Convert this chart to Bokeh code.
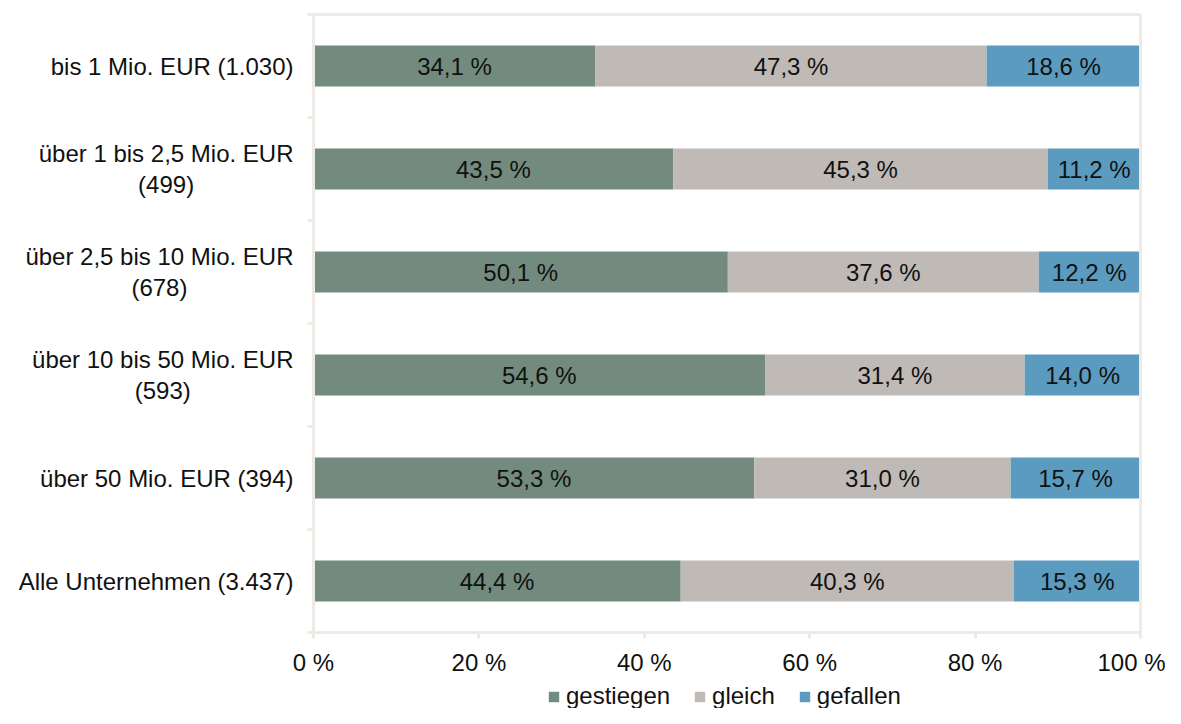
from bokeh.plotting import figure
from bokeh.models import (ColumnDataSource, Range1d, FixedTicker, Legend, LegendItem,
                          CustomJSTickFormatter, LinearAxis)
from bokeh.embed import file_html
from bokeh.resources import INLINE
from bokeh.core.properties import value

categories = [
    "bis 1 Mio. EUR (1.030)",
    "über 1 bis 2,5 Mio. EUR\n(499)",
    "über 2,5 bis 10 Mio. EUR\n(678)",
    "über 10 bis 50 Mio. EUR\n(593)",
    "über 50 Mio. EUR (394)",
    "Alle Unternehmen (3.437)",
]
gestiegen = [34.1, 43.5, 50.1, 54.6, 53.3, 44.4]
gleich = [47.3, 45.3, 37.6, 31.4, 31.0, 40.3]
gefallen = [18.6, 11.2, 12.2, 14.0, 15.7, 15.3]
series = ["gestiegen", "gleich", "gefallen"]
colors = ["#728B7E", "#BFBAB6", "#5B9BBF"]
x_ticks = [0, 20, 40, 60, 80, 100]

FONT = "Liberation Sans"
AXIS_COLOR = "#EEEAE6"
TEXT_COLOR = "#111111"

# layout (pixels); the frame fills the whole canvas, axes are placed at fixed locations
W, H = 1165, 708
PLOT_LEFT, PLOT_RIGHT = 313, 1140
PLOT_TOP, PLOT_BOTTOM = 14, 632

n = len(categories)
ypos = [n - 0.5 - i for i in range(n)]
px_x = (PLOT_RIGHT - PLOT_LEFT) / 100.0
px_y = (PLOT_BOTTOM - PLOT_TOP) / float(n)
x_range = Range1d(-PLOT_LEFT / px_x, 100 + (W - PLOT_RIGHT) / px_x)
y_range = Range1d(-(H - PLOT_BOTTOM) / px_y, n + PLOT_TOP / px_y)

src = ColumnDataSource(dict(y=ypos, gestiegen=gestiegen, gleich=gleich, gefallen=gefallen))

p = figure(width=W, height=H, output_backend="svg", toolbar_location=None,
           x_range=x_range, y_range=y_range,
           x_axis_location=None, y_axis_location=None,
           min_border=0)
p.grid.visible = False
p.outline_line_color = None
p.border_fill_color = "white"

renderers = p.hbar_stack(series, y="y", height=0.4, color=colors, line_color=None, source=src)

# data labels
lx, ly, lt = [], [], []
for i in range(n):
    left = 0.0
    for v in (gestiegen[i], gleich[i], gefallen[i]):
        lx.append(left + v / 2)
        ly.append(ypos[i])
        lt.append(f"{v:.1f}".replace(".", ",") + " %")
        left += v
p.text(x=lx, y=ly, text=lt, text_align="center", text_baseline="middle",
       text_font=value(FONT), text_font_size="24px", text_color=TEXT_COLOR)

# category labels (right-anchored blocks, centred lines)
p.text(x=[0] * n, y=ypos, text=categories, x_offset=-20, anchor="center_right",
       text_align="center", text_baseline="middle", text_font=value(FONT),
       text_font_size="24px", text_color=TEXT_COLOR, text_line_height=1.13)


def frame_axis(side, loc, bounds, ticks=(), minor=(), tick_out=0):
    ax = LinearAxis(fixed_location=loc, bounds=bounds,
                    ticker=FixedTicker(ticks=list(ticks), minor_ticks=list(minor)),
                    axis_line_color=AXIS_COLOR, axis_line_width=3,
                    major_tick_line_color=AXIS_COLOR, major_tick_line_width=3,
                    major_tick_out=tick_out, major_tick_in=0,
                    minor_tick_line_color=AXIS_COLOR, minor_tick_line_width=3,
                    minor_tick_out=tick_out, minor_tick_in=0)
    p.add_layout(ax, side)
    return ax


# bottom value axis
xa = frame_axis("below", 0, (0, 100), ticks=x_ticks, tick_out=6)
xa.formatter = CustomJSTickFormatter(code="return tick + ' %'")
xa.major_label_standoff = 10
xa.major_label_text_font = FONT
xa.major_label_text_font_size = "24px"
xa.major_label_text_color = TEXT_COLOR

# left category axis: boundary ticks only (labels drawn as text above)
frame_axis("left", 0, (0, n), minor=range(n + 1), tick_out=6)

# top and right frame lines
frame_axis("above", n, (0, 100))
frame_axis("right", 100, (0, n))

legend = Legend(items=[LegendItem(label=s, renderers=[r]) for s, r in zip(series, renderers)],
                orientation="horizontal", location=(547, -2),
                glyph_width=13, glyph_height=13, label_standoff=6, spacing=23,
                padding=0, margin=0, border_line_color=None, background_fill_alpha=0,
                label_text_font=FONT, label_text_font_size="24px", label_text_color=TEXT_COLOR,
                label_height=20)
p.add_layout(legend)

open("out.html", "w").write(file_html(p, INLINE))
